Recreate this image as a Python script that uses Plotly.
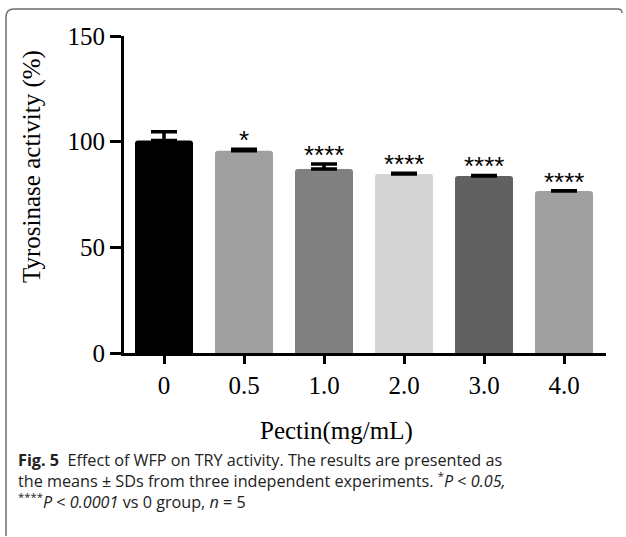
import plotly.graph_objects as go

categories = ["0", "0.5", "1.0", "2.0", "3.0", "4.0"]
means = [100.5, 95.7, 87.1, 84.7, 83.8, 76.6]
sds = [4.2, 0.7, 2.3, 0.3, 0.2, 0.2]
signif = ["", "*", "****", "****", "****", "****"]
bar_colors = ["#000000", "#a0a0a0", "#808080", "#d4d4d4", "#606060", "#a0a0a0"]
y_ticks = [0, 50, 100, 150]

W, H = 626, 537
L, R, T, B = 124, 606, 36, 353  # plot area in pixels


def px(x):
    return (x - L) / (R - L)


def py(y):
    return (B - y) / (B - T)


serif = "Liberation Serif, Times New Roman, serif"
sans = "Open Sans, Noto Sans, sans-serif"

fig = go.Figure()
fig.add_trace(go.Bar(
    x=categories,
    y=means,
    width=0.725,
    marker=dict(color=bar_colors, line=dict(width=0), cornerradius=3),
    error_y=dict(type="data", array=sds, arrayminus=[0] * len(sds), symmetric=False,
                 color="black", thickness=3.5, width=13),
    showlegend=False,
))

annotations = []
for i, (m, s, t) in enumerate(zip(means, sds, signif)):
    if t:
        annotations.append(dict(x=i, y=m + s, xref="x", yref="y", text=t, showarrow=False,
                                yanchor="bottom", yshift=-8,
                                font=dict(family="Liberation Sans, Arial", size=26, color="black")))

annotations.append(dict(x=px(32), y=py(167), xref="paper", yref="paper",
                        text="Tyrosinase activity (%)", textangle=-90, showarrow=False,
                        xanchor="center", yanchor="middle",
                        font=dict(family=serif, size=25, color="black")))
annotations.append(dict(x=px(336), y=py(431), xref="paper", yref="paper",
                        text="Pectin(mg/mL)", showarrow=False,
                        xanchor="center", yanchor="middle",
                        font=dict(family=serif, size=25, color="black")))

caption = ("<b>Fig. 5</b>  Effect of WFP on TRY activity. The results are presented as<br>"
           "the means ± SDs from three independent experiments. <sup>*</sup><i>P</i> < <i>0.05,</i><br>"
           "<sup>****</sup><i>P</i> < <i>0.0001</i> vs 0 group, <i>n</i> = 5")
annotations.append(dict(x=px(16), y=py(481), xref="paper", yref="paper", text=caption,
                        showarrow=False, xanchor="left", yanchor="middle", align="left",
                        font=dict(family=sans, size=16.2, color="#222222")))

# rounded frame
fx0, fy0, fx1, fy_bot, r = 6, 9, 622, 536, 8
path = (f"M {px(fx0)},{py(fy_bot)} L {px(fx0)},{py(fy0 + r)} "
        f"Q {px(fx0)},{py(fy0)} {px(fx0 + r)},{py(fy0)} "
        f"L {px(fx1 - 4)},{py(fy0)} Q {px(fx1)},{py(fy0)} {px(fx1)},{py(fy0 + 4)}")
shapes = [dict(type="path", xref="paper", yref="paper", path=path,
               line=dict(color="#6e6e6e", width=1.5))]

fig.update_layout(
    width=W, height=H,
    margin=dict(l=L, r=W - R, t=T, b=H - B, pad=0),
    paper_bgcolor="white", plot_bgcolor="white",
    annotations=annotations,
    shapes=shapes,
    xaxis=dict(type="category", range=[-0.5, 5.525], showline=True, linecolor="black",
               linewidth=3, ticks="outside", ticklen=8, tickwidth=3, tickcolor="black",
               showgrid=False, zeroline=False,
               tickfont=dict(family=serif, size=25, color="black")),
    yaxis=dict(range=[0, 150], tickvals=y_ticks, showline=True, linecolor="black",
               linewidth=3, ticks="outside", ticklen=11, tickwidth=3, tickcolor="black",
               showgrid=False, zeroline=False,
               tickfont=dict(family=serif, size=25, color="black")),
)

fig.write_html("out.html")
